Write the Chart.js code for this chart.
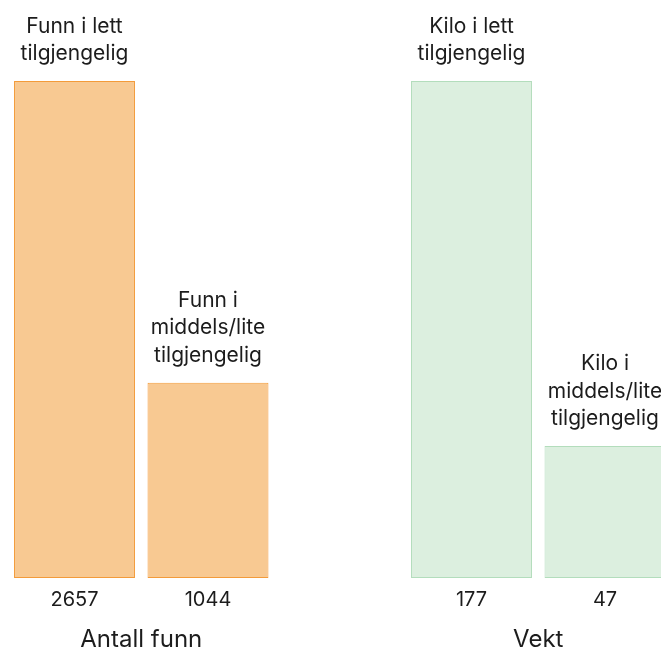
<!DOCTYPE html>
<html>
<head>
<meta charset="utf-8">
<script src="https://cdn.jsdelivr.net/npm/chart.js@4.4.1/dist/chart.umd.min.js"></script>
<style>
  html, body { margin: 0; padding: 0; background: #fff; overflow: hidden; width: 661px; height: 648px; }
  .panel { position: absolute; top: 0; width: 282px; height: 648px; }
  #left { left: 0; }
  #right { left: 397px; }
</style>
</head>
<body>
<div class="panel" id="left"><canvas id="cLeft" width="282" height="648"></canvas></div>
<div class="panel" id="right"><canvas id="cRight" width="282" height="648"></canvas></div>
<script>
// Number of finds by accessibility
const findCounts = [2657, 1044];
const findLabels = [["Funn i lett", "tilgjengelig"], ["Funn i", "middels/lite", "tilgjengelig"]];
const findTitle = "Antall funn";

// Weight (kg) by accessibility
const weightKg = [177, 47];
const weightLabels = [["Kilo i lett", "tilgjengelig"], ["Kilo i", "middels/lite", "tilgjengelig"]];
const weightTitle = "Vekt";

const FONT = "Inter, 'DejaVu Sans', sans-serif";
const TEXT = "#1c1c1c";

// Writes the multi-line caption above each bar
const barCaptions = {
  id: "barCaptions",
  afterDatasetsDraw(chart, args, opts) {
    const ctx = chart.ctx;
    const meta = chart.getDatasetMeta(0);
    ctx.save();
    ctx.font = "21px " + FONT;
    ctx.fillStyle = TEXT;
    ctx.textAlign = "center";
    ctx.textBaseline = "alphabetic";
    meta.data.forEach((bar, i) => {
      const lines = opts.lines[i];
      const n = lines.length;
      lines.forEach((line, j) => {
        const y = bar.y - 21 - (n - 1 - j) * 27.5;
        ctx.fillText(line, bar.x, y);
      });
    });
    ctx.restore();
  }
};

function makePanel(canvasId, values, captions, title, fill, stroke) {
  new Chart(document.getElementById(canvasId), {
    type: "bar",
    data: {
      labels: values.map(String),
      datasets: [{
        data: values,
        backgroundColor: fill,
        borderColor: stroke,
        borderWidth: 1,
        borderSkipped: false,
        categoryPercentage: 1,
        barPercentage: 0.906
      }]
    },
    options: {
      responsive: false,
      animation: false,
      events: [],
      layout: { padding: { top: 81, left: 7.75, right: 7.25, bottom: 0 } },
      plugins: {
        legend: { display: false },
        tooltip: { enabled: false },
        barCaptions: { lines: captions }
      },
      scales: {
        y: { display: false, min: 0, max: Math.max(...values) },
        x: {
          afterFit(scale) { scale.height = 70; },
          grid: { display: false, drawTicks: false },
          border: { display: false },
          ticks: { color: TEXT, font: { family: FONT, size: 20 }, padding: 10 },
          title: {
            display: true,
            text: title,
            color: TEXT,
            font: { family: FONT, size: 24, lineHeight: 0.7 },
            padding: { top: 0, bottom: 0 }
          }
        }
      }
    },
    plugins: [barCaptions]
  });
}

makePanel("cLeft", findCounts, findLabels, findTitle, "#F8C992", "#F39B3A");
makePanel("cRight", weightKg, weightLabels, weightTitle, "#DCEFDF", "#B3DDBC");
</script>
</body>
</html>
